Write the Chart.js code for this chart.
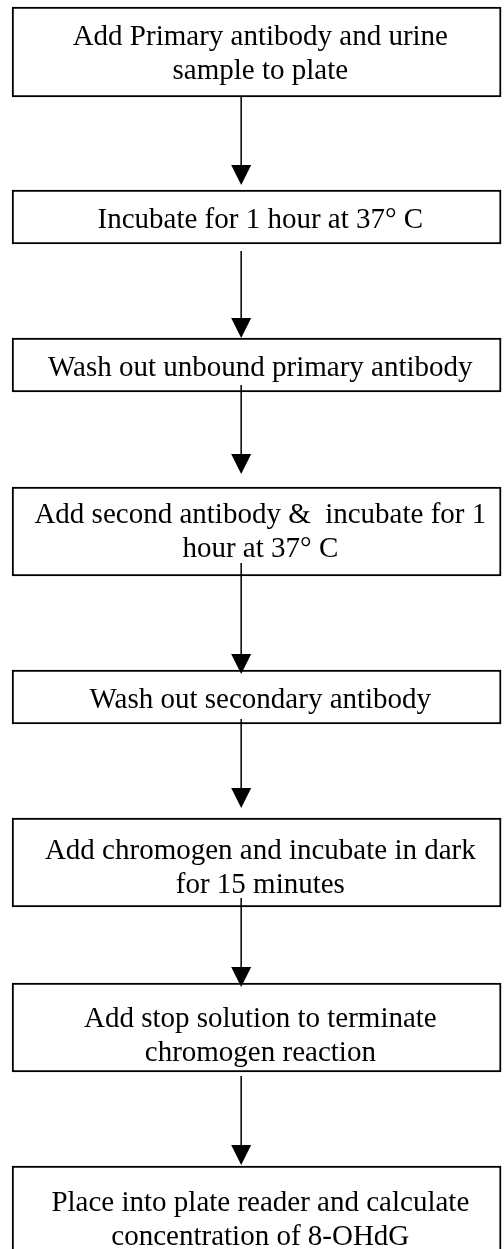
<!DOCTYPE html>
<html>
<head>
<meta charset="utf-8">
<title>ELISA procedure</title>
<script src="https://cdn.jsdelivr.net/npm/chart.js@4/dist/chart.umd.min.js"></script>
<style>
    html, body { margin: 0; padding: 0; background: #fff; }
    canvas { display: block; }
</style>
</head>
<body>
<canvas id="flow" width="504" height="1249"></canvas>
<script>
// Steps of the procedure, one entry per box (each entry = lines of text)
const steps = [
    ['Add Primary antibody and urine', 'sample to plate'],
    ['Incubate for 1 hour at 37\u00B0 C'],
    ['Wash out unbound primary antibody'],
    ['Add second antibody &  incubate for 1', 'hour at 37\u00B0 C'],
    ['Wash out secondary antibody'],
    ['Add chromogen and incubate in dark', 'for 15 minutes'],
    ['Add stop solution to terminate', 'chromogen reaction'],
    ['Place into plate reader and calculate', 'concentration of 8-OHdG']
];

// vertical extent of each box, in chart units
const boxTop = [7, 190, 338, 487, 670, 818, 983, 1166];
const boxBottom = [97, 244, 392, 576, 724, 907, 1072, 1255];

// arrows between boxes: where the shaft starts and where the head points
const arrowFrom = [97, 251, 385, 563, 719, 898, 1076];
const arrowTo = [185, 338, 474, 674, 808, 987, 1165];

// =====================================================
// layout / style
// =====================================================
const boxCenterX = 257.5;
const boxWidth = 489;
const arrowX = 239;
const textX = 262;
const headLen = 20;
const headHalf = 10;
const lineGap = 34;
// baseline of first text line, measured down from the box top
const firstBaseline = [38, 38, 38, 36, 38, 41, 44, 45];
const FONT = '29px "Liberation Serif", "Times New Roman", serif';

const boxes = boxTop.map((t, i) => ({ x: boxCenterX, y: [t, boxBottom[i]] }));

// shafts as one line dataset, broken by gaps
const shafts = [];
arrowFrom.forEach((from, i) => {
    shafts.push({ x: arrowX, y: from });
    shafts.push({ x: arrowX, y: arrowTo[i] - headLen + 1 });
    shafts.push({ x: arrowX, y: null });
});

// text goes in right after the boxes are filled, so arrows stay on top
const boxText = {
    id: 'boxText',
    afterDatasetDraw(chart, args) {
        if (args.index !== 0) return;
        const { ctx, scales } = chart;
        ctx.save();
        ctx.fillStyle = '#000';
        ctx.font = FONT;
        ctx.textAlign = 'center';
        ctx.textBaseline = 'alphabetic';
        const cx = scales.x.getPixelForValue(textX);
        steps.forEach((lines, i) => {
            const top = scales.y.getPixelForValue(boxTop[i]);
            lines.forEach((line, j) => {
                ctx.fillText(line, cx, top + firstBaseline[i] + j * lineGap);
            });
        });
        ctx.restore();
    }
};

const arrowHeads = {
    id: 'arrowHeads',
    afterDatasetsDraw(chart) {
        const { ctx, scales } = chart;
        ctx.save();
        ctx.fillStyle = '#000';
        const px = scales.x.getPixelForValue(arrowX);
        arrowTo.forEach(tip => {
            const py = scales.y.getPixelForValue(tip);
            ctx.beginPath();
            ctx.moveTo(px - headHalf, py - headLen);
            ctx.lineTo(px + headHalf, py - headLen);
            ctx.lineTo(px, py);
            ctx.closePath();
            ctx.fill();
        });
        ctx.restore();
    }
};

new Chart(document.getElementById('flow'), {
    type: 'bar',
    data: {
        datasets: [
            {
                type: 'bar',
                data: boxes,
                backgroundColor: '#fff',
                borderColor: '#000',
                borderWidth: 2,
                borderSkipped: false,
                barThickness: boxWidth,
                order: 2
            },
            {
                type: 'line',
                data: shafts,
                borderColor: '#000',
                borderWidth: 1.5,
                pointRadius: 0,
                spanGaps: false,
                order: 1
            }
        ]
    },
    options: {
        responsive: false,
        animation: false,
        layout: { padding: 0 },
        plugins: {
            legend: { display: false },
            tooltip: { enabled: false }
        },
        scales: {
            x: { type: 'linear', min: 0, max: 504, display: false },
            y: { type: 'linear', min: 0, max: 1249, reverse: true, display: false }
        }
    },
    plugins: [boxText, arrowHeads]
});
</script>
</body>
</html>
